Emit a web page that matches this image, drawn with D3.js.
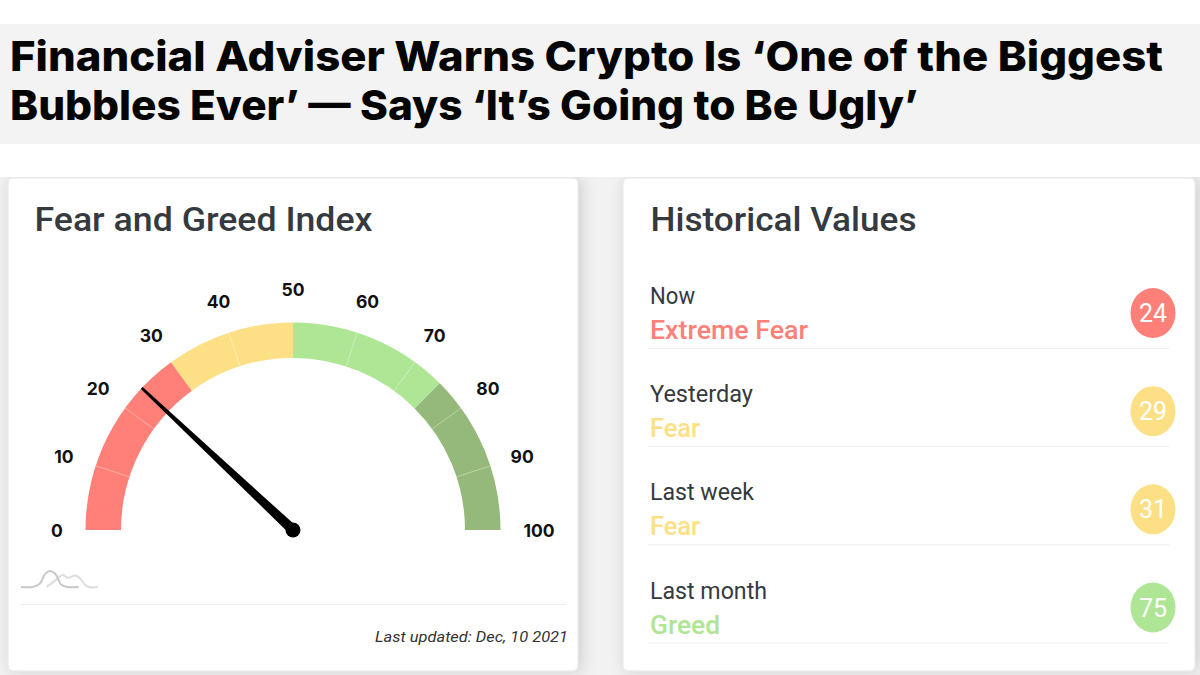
<!DOCTYPE html>
<html><head><meta charset="utf-8">
<script src="https://cdn.jsdelivr.net/npm/d3@7"></script>
<style>
html,body{margin:0;padding:0;background:#fff;width:1200px;height:675px;overflow:hidden}
svg{display:block}
text{font-family:Roboto,sans-serif}
</style></head><body>
<svg id="c" width="1200" height="675" viewBox="0 0 1200 675"></svg>
<script>
const titleLines = ["Financial Adviser Warns Crypto Is ‘One of the Biggest","Bubbles Ever’ — Says ‘It’s Going to Be Ugly’"];
const gaugeTitle = "Fear and Greed Index";
const historyTitle = "Historical Values";
const updated = "Last updated: Dec, 10 2021";
const gaugeTicks = [0,10,20,30,40,50,60,70,80,90,100];
const bandStarts = [0,30,50,75];
const bandEnds = [30,50,75,100];
const bandColors = ["#ff8078","#fde086","#aee695","#95b97b"];
const dividers = [10,20,40,60,70,80,90];
const needleValue = 24;
const periods = ["Now","Yesterday","Last week","Last month"];
const moods = ["Extreme Fear","Fear","Fear","Greed"];
const histValues = [24,29,31,75];
const moodColors = ["#ff8078","#fde086","#fde086","#aee695"];

const svg = d3.select("#c");
const defs = svg.append("defs");
const f = defs.append("filter").attr("id","sh").attr("x","-10%").attr("y","-10%").attr("width","120%").attr("height","120%");
f.append("feDropShadow").attr("dx",3).attr("dy",0).attr("stdDeviation",8).attr("flood-color","#000").attr("flood-opacity",0.16);
defs.append("clipPath").attr("id","below").append("rect").attr("x",0).attr("y",177).attr("width",1200).attr("height",498);

function fit(sel, w){ sel.attr("textLength",w).attr("lengthAdjust","spacingAndGlyphs"); return sel; }

// page
svg.append("rect").attr("x",0).attr("y",24).attr("width",1200).attr("height",120).attr("fill","#f3f3f3");
svg.append("rect").attr("x",0).attr("y",177).attr("width",1200).attr("height",498).attr("fill","#f2f2f2");
const titleW = [1153,908];
titleLines.forEach((t,i)=>{
  fit(svg.append("text").attr("x",10).attr("y",[71,120][i]).attr("font-size",41).attr("font-weight",800).attr("fill","#050505").style("font-family","Inter, sans-serif").text(t),titleW[i]);
});

// cards
const cards = [[8,178,570,493],[623,178,572,493]];
svg.append("g").attr("clip-path","url(#below)").selectAll("rect.card").data(cards).join("rect").attr("class","card")
  .attr("x",d=>d[0]).attr("y",d=>d[1]).attr("width",d=>d[2]).attr("height",d=>d[3]).attr("rx",5)
  .attr("fill","#fff").attr("stroke","#e6e6e6").attr("stroke-width",1).attr("filter","url(#sh)");

fit(svg.append("text").attr("x",34.5).attr("y",231).attr("font-size",33).attr("font-weight",500).attr("fill","#343a40").text(gaugeTitle),338);
fit(svg.append("text").attr("x",650.5).attr("y",231).attr("font-size",33).attr("font-weight",500).attr("fill","#343a40").text(historyTitle),266);

// gauge
const cx=293, cy=530, rO=207.5, rI=172, rL=241;
const ang = d3.scaleLinear().domain([0,100]).range([-Math.PI/2,Math.PI/2]);
const g = svg.append("g").attr("transform",`translate(${cx},${cy})`);
const arc = d3.arc().innerRadius(rI).outerRadius(rO);
g.selectAll("path.band").data(bandStarts).join("path").attr("class","band")
  .attr("fill",(d,i)=>bandColors[i])
  .attr("d",(d,i)=>arc({startAngle:ang(d),endAngle:ang(bandEnds[i])}));
const polar=(v,r)=>[r*Math.sin(ang(v)),-r*Math.cos(ang(v))];
g.selectAll("line.div").data(dividers).join("line").attr("class","div")
  .attr("x1",d=>polar(d,rI)[0]).attr("y1",d=>polar(d,rI)[1])
  .attr("x2",d=>polar(d,rO)[0]).attr("y2",d=>polar(d,rO)[1])
  .attr("stroke","#fff").attr("stroke-opacity",0.35).attr("stroke-width",1);
g.selectAll("text.tick").data(gaugeTicks).join("text").attr("class","tick")
  .attr("x",d=>polar(d,rL)[0]+(d===0||d===100?5:0)).attr("y",d=>polar(d,rL)[1]+7)
  .attr("text-anchor","middle").attr("font-size",17.5).attr("font-weight",700).attr("fill","#111")
  .style("font-family","Inter, sans-serif")
  .text(d=>d);
// needle
const tip=polar(needleValue,rO), nx=-tip[1]/rO, ny=tip[0]/rO;
const needle=d3.path();
needle.moveTo(tip[0]+nx*1.3,tip[1]+ny*1.3);
needle.lineTo(nx*5,ny*5);
needle.lineTo(-nx*5,-ny*5);
needle.lineTo(tip[0]-nx*1.3,tip[1]-ny*1.3);
needle.closePath();
g.append("path").attr("d",needle.toString()).attr("fill","#000");
g.append("circle").attr("r",7.5).attr("fill","#000");

// small logo
const logoX=d3.scaleLinear().domain([0,100]).range([21,98]);
const logoY=d3.scaleLinear().domain([0,100]).range([587,571]);
const logoLine=d3.line().x(d=>logoX(d[0])).y(d=>logoY(d[1])).curve(d3.curveCatmullRom.alpha(0.5));
const logoA=[[0,0],[15,0],[24,18],[32,85],[38,100],[45,80],[52,15],[60,0],[75,0]];
const logoB=[[33,0],[43,35],[52,72],[55,75],[61,58],[70,72],[75,62],[86,3],[100,0]];
[logoB,logoA].forEach((p,i)=>svg.append("path").attr("d",logoLine(p)).attr("fill","none").attr("stroke",i?"#c8c8c8":"#dedede").attr("stroke-width",2));
svg.append("line").attr("x1",20).attr("x2",566).attr("y1",604.5).attr("y2",604.5).attr("stroke","#eee");
fit(svg.append("text").attr("x",375).attr("y",642).attr("font-size",14).attr("font-style","italic").attr("fill","#333").text(updated),193);

// history
const rowY=d3.scaleLinear().domain([0,3]).range([0,294.5]);
const periodW=[45,103,104,117], moodW=[158,50,50,70];
const row=svg.selectAll("g.row").data(periods).join("g").attr("class","row").attr("transform",(d,i)=>`translate(0,${rowY(i)})`);
row.append("text").attr("x",650).attr("y",304).attr("font-size",23).attr("fill","#343a40").each(function(d,i){fit(d3.select(this).text(d),periodW[i]);});
row.append("text").attr("x",650).attr("y",339).attr("font-size",25).attr("font-weight",500).attr("fill",(d,i)=>moodColors[i]).each(function(d,i){fit(d3.select(this).text(moods[i]),moodW[i]);});
row.append("line").attr("x1",648).attr("x2",1169).attr("y1",348.5).attr("y2",348.5).attr("stroke","#eee");
row.append("ellipse").attr("cx",1153).attr("cy",313).attr("rx",22.5).attr("ry",25).attr("fill",(d,i)=>moodColors[i]);
row.append("text").attr("x",1153).attr("y",322).attr("text-anchor","middle").attr("font-size",25).attr("fill","#fff").text((d,i)=>histValues[i]);
</script></body></html>
